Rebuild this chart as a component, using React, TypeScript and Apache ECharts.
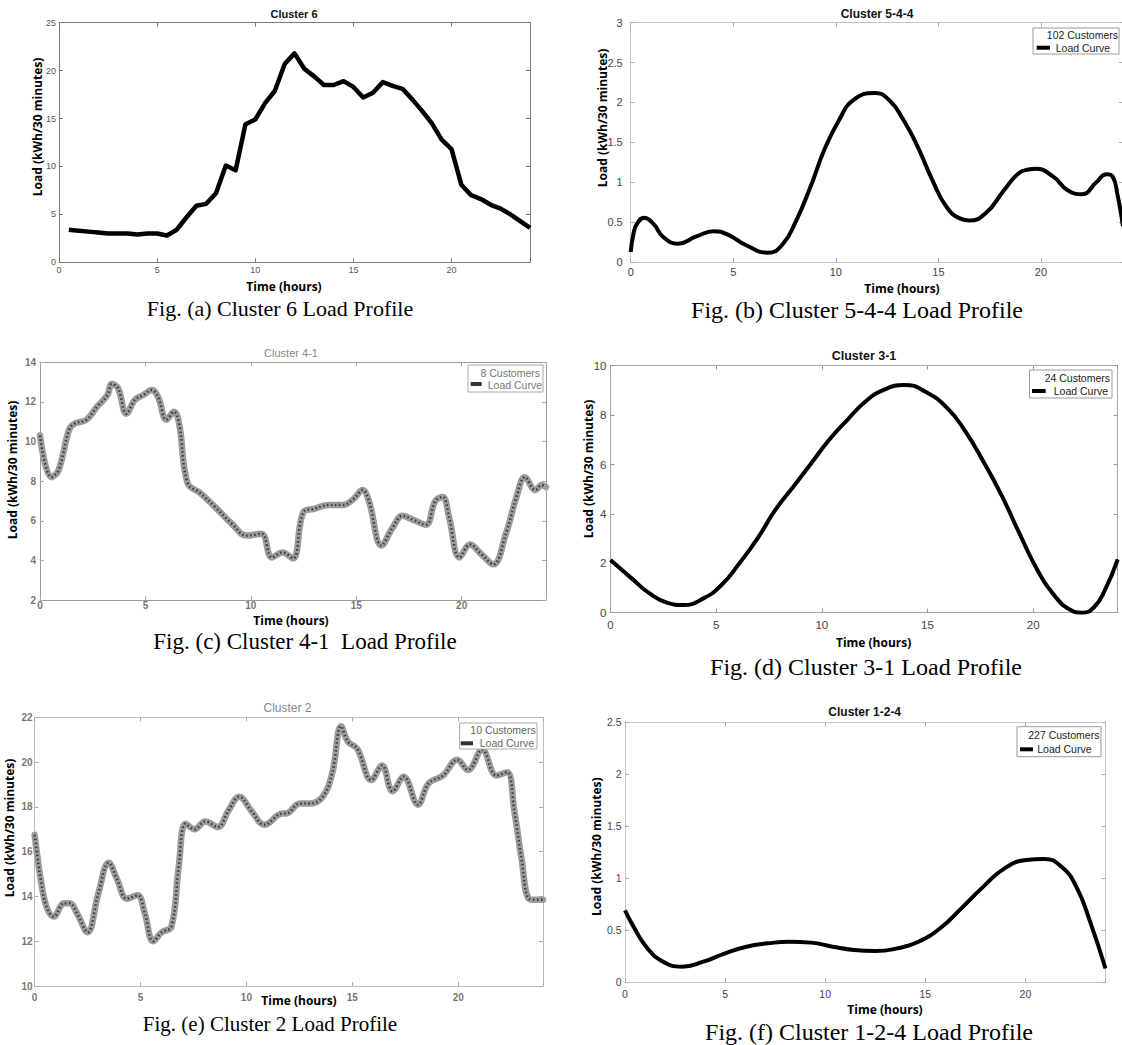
import React, { useEffect, useRef } from "react";
import * as echarts from "echarts";

// ---------- DATA ----------
const xTicks = [0, 5, 10, 15, 20];

// (a) Cluster 6
const hoursA = [0.5, 1, 1.5, 2, 2.5, 3, 3.5, 4, 4.5, 5, 5.5, 6, 6.5, 7, 7.5, 8, 8.5, 9, 9.5, 10, 10.5, 11, 11.5, 12, 12.5, 13, 13.5, 14, 14.5, 15, 15.5, 16, 16.5, 17, 17.5, 18, 18.5, 19, 19.5, 20, 20.5, 21, 21.5, 22, 22.5, 23, 23.5, 24];
const loadA = [3.4, 3.3, 3.2, 3.1, 3.0, 3.0, 3.0, 2.9, 3.0, 3.0, 2.8, 3.4, 4.7, 5.9, 6.1, 7.2, 10.1, 9.6, 14.4, 14.9, 16.6, 17.9, 20.7, 21.8, 20.2, 19.4, 18.5, 18.5, 18.9, 18.3, 17.2, 17.7, 18.8, 18.4, 18.1, 17.0, 15.8, 14.5, 12.8, 11.8, 8.1, 7.0, 6.6, 6.0, 5.6, 5.0, 4.3, 3.6];
const yTicksA = [0, 5, 10, 15, 20, 25];

// (b) Cluster 5-4-4
const hoursB = [0, 0.14, 0.31, 0.66, 1.1, 1.6, 2.3, 3.2, 4.06, 4.76, 5.63, 6.67, 7.37, 8.07, 8.76, 9.46, 10.16, 10.85, 11.9, 12.6, 13.3, 14.0, 14.7, 15.4, 16.1, 16.5, 17.3, 18.2, 18.9, 19.4, 19.74, 20.6, 21.3, 22.0, 22.7, 23.2, 23.5, 23.75, 23.9, 24];
const loadB = [0.125, 0.36, 0.48, 0.556, 0.48, 0.31, 0.23, 0.32, 0.385, 0.34, 0.21, 0.117, 0.21, 0.52, 0.94, 1.42, 1.78, 2.03, 2.12, 2.03, 1.78, 1.44, 1.03, 0.69, 0.54, 0.52, 0.61, 0.9, 1.11, 1.16, 1.17, 1.07, 0.9, 0.85, 1.0, 1.1, 1.07, 0.82, 0.61, 0.45];
const yTicksB = [0, 0.5, 1, 1.5, 2, 2.5, 3];

// (c) Cluster 4-1
const hoursC = [0, 0.54, 0.88, 1.38, 1.63, 2.2, 2.7, 3.2, 3.4, 3.7, 4.1, 4.5, 4.9, 5.3, 5.6, 6.0, 6.35, 6.6, 7.0, 7.6, 8.3, 9.1, 9.8, 10.5, 11.0, 11.5, 12.0, 12.5, 13.0, 13.7, 14.36, 14.87, 15.3, 15.6, 16.2, 16.7, 17.2, 17.7, 18.3, 18.75, 19.1, 19.4, 19.9, 20.4, 20.9, 21.5, 22.1, 22.6, 23.0, 23.5, 23.8, 24];
const loadC = [10.3, 8.2, 8.55, 10.6, 10.9, 11.1, 11.75, 12.35, 12.9, 12.7, 11.4, 12.1, 12.35, 12.6, 12.25, 11.1, 11.5, 10.9, 7.9, 7.4, 6.7, 5.85, 5.25, 5.35, 4.15, 4.4, 4.1, 6.45, 6.6, 6.8, 6.8, 7.1, 7.55, 7.0, 4.75, 5.6, 6.25, 6.05, 5.8, 7.0, 7.2, 6.2, 4.15, 4.8, 4.35, 3.8, 5.35, 7.2, 8.2, 7.55, 7.8, 7.7];
const yTicksC = [2, 4, 6, 8, 10, 12, 14];

// (d) Cluster 3-1
const hoursD = [0, 1.0, 1.85, 2.7, 3.43, 4.4, 5.25, 6.1, 6.95, 7.8, 8.65, 9.5, 10.35, 11.2, 12.05, 12.9, 13.9, 14.9, 15.95, 16.8, 17.65, 18.5, 19.35, 20.2, 21.05, 21.73, 22.33, 22.9, 23.4, 24];
const loadD = [2.13, 1.39, 0.78, 0.4, 0.31, 0.58, 1.12, 2.0, 3.0, 4.16, 5.1, 6.05, 7.0, 7.8, 8.54, 9.01, 9.22, 8.95, 8.27, 7.33, 6.11, 4.76, 3.21, 1.73, 0.65, 0.13, 0.0, 0.24, 0.92, 2.16];
const yTicksD = [0, 2, 4, 6, 8, 10];

// (e) Cluster 2
const hoursE = [0, 0.13, 0.3, 0.56, 0.9, 1.4, 1.65, 2.0, 2.5, 3.0, 3.5, 3.9, 4.35, 4.86, 5.2, 5.6, 6.0, 6.46, 6.8, 7.13, 7.55, 8.06, 8.65, 9.16, 9.66, 10.25, 10.85, 11.7, 11.86, 12.53, 13.0, 13.6, 14.05, 14.47, 14.8, 15.23, 15.9, 16.4, 16.9, 17.42, 18.1, 18.6, 19.28, 19.95, 20.46, 21.13, 21.8, 22.3, 22.65, 23.0, 23.33, 23.66, 24];
const loadE = [16.75, 15.8, 14.7, 13.55, 13.1, 13.7, 13.7, 13.25, 12.4, 14.1, 15.5, 14.75, 13.9, 14.05, 13.25, 12.0, 12.4, 12.65, 15.3, 17.25, 17.0, 17.35, 17.1, 17.85, 18.45, 17.8, 17.2, 17.7, 17.7, 18.15, 18.15, 18.45, 19.5, 21.6, 20.9, 20.6, 19.2, 19.85, 18.7, 19.35, 18.1, 19.05, 19.4, 20.1, 19.65, 20.55, 19.4, 19.55, 17.8, 15.6, 13.9, 13.85, 13.85];
const yTicksE = [10, 12, 14, 16, 18, 20, 22];

// (f) Cluster 1-2-4
const hoursF = [0, 0.52, 1.06, 1.77, 2.85, 3.92, 5.0, 6.07, 7.14, 8.2, 9.3, 10.37, 11.44, 12.5, 13.6, 14.66, 15.74, 16.8, 17.9, 18.96, 20.04, 20.93, 21.8, 22.54, 23.26, 24];
const loadF = [0.69, 0.5, 0.34, 0.21, 0.148, 0.196, 0.276, 0.34, 0.372, 0.388, 0.379, 0.34, 0.308, 0.298, 0.324, 0.388, 0.517, 0.709, 0.918, 1.094, 1.175, 1.185, 1.11, 0.918, 0.565, 0.13];
const yTicksF = [0, 0.5, 1, 1.5, 2, 2.5];

const titles = ["Cluster 6", "Cluster 5-4-4", "Cluster 4-1", "Cluster 3-1", "Cluster 2", "Cluster 1-2-4"];
const captions = [
  "Fig. (a) Cluster 6 Load Profile",
  "Fig. (b) Cluster 5-4-4 Load Profile",
  "Fig. (c) Cluster 4-1  Load Profile",
  "Fig. (d) Cluster 3-1 Load Profile",
  "Fig. (e) Cluster 2 Load Profile",
  "Fig. (f) Cluster 1-2-4 Load Profile",
];
const customerLabels = [null, "102 Customers", "8 Customers", "24 Customers", "10 Customers", "227 Customers"];
const seriesName = "Load Curve";
const xName = "Time (hours)";
const yName = "Load (kWh/30 minutes)";

// ---------- LAYOUT / STYLE ----------
const SANS = "'Liberation Sans', Arial, sans-serif";
const BOLD = "'Open Sans', 'Liberation Sans', sans-serif";
const SERIF = "'Liberation Serif', 'Times New Roman', serif";

const panels = [
  {
    hours: hoursA, load: loadA, yTicks: yTicksA, smooth: false, noisy: false,
    grid: { left: 59, top: 22.7, width: 471, height: 239.6 },
    axis: "#7a7a7a", tick: "#777", label: "#555", labelSize: 9, labelWeight: "normal", xMargin: 3, yMargin: 3,
    lineWidth: 4.5,
    title: { x: 294, y: 14, size: 11, color: "#111", weight: "bold" },
    yNamePos: { x: 37.5, y: 127 }, xNamePos: { x: 284, y: 286 },
    cap: { x: 280, y: 308, size: 22 },
    legend: null,
  },
  {
    hours: hoursB, load: loadB, yTicks: yTicksB, smooth: 0.5, noisy: false,
    grid: { left: 630.7, top: 22.7, width: 493.3, height: 239.3 },
    axis: "#c4c4c4", tick: "#aaa", label: "#444", labelSize: 11, labelWeight: "normal", xMargin: 4, yMargin: 8,
    lineWidth: 4,
    title: { x: 877, y: 13.5, size: 12, color: "#111", weight: "bold" },
    yNamePos: { x: 602, y: 118 }, xNamePos: { x: 902, y: 288 },
    cap: { x: 857, y: 310, size: 24 },
    legend: { box: [1033, 28, 86, 26], t1: [1118, 34.7], t2: [1110, 47.7], m: [1036.7, 1050, 47.7], color: "#222", stroke: "#999", mark: "#000" },
  },
  {
    hours: hoursC, load: loadC, yTicks: yTicksC, smooth: 0.4, noisy: true,
    grid: { left: 40, top: 362.3, width: 506, height: 237.7 },
    axis: "#9a9a9a", tick: "#aaa", label: "#777", labelSize: 10, labelWeight: "bold", xMargin: 0, yMargin: 4,
    lineWidth: 6.5,
    title: { x: 291, y: 352.7, size: 11, color: "#888", weight: "normal" },
    yNamePos: { x: 12.5, y: 470 }, xNamePos: { x: 291, y: 620 },
    cap: { x: 305, y: 641, size: 23 },
    legend: { box: [468, 365, 75, 27], t1: [540, 373], t2: [542, 385], m: [470.7, 481.7, 384], color: "#777", stroke: "#aaa", mark: "#333" },
  },
  {
    hours: hoursD, load: loadD, yTicks: yTicksD, smooth: 0.5, noisy: false,
    grid: { left: 610.5, top: 365.7, width: 507.2, height: 247 },
    axis: "#a8a8a8", tick: "#999", label: "#444", labelSize: 11.5, labelWeight: "normal", xMargin: 6, yMargin: 4,
    lineWidth: 4,
    title: { x: 864, y: 356, size: 12.5, color: "#111", weight: "bold" },
    yNamePos: { x: 588.7, y: 469 }, xNamePos: { x: 873.6, y: 642 },
    cap: { x: 866, y: 667, size: 24 },
    legend: { box: [1029.5, 370, 82.5, 28], t1: [1110, 378.3], t2: [1108, 391], m: [1032, 1045.6, 391], color: "#222", stroke: "#999", mark: "#000" },
  },
  {
    hours: hoursE, load: loadE, yTicks: yTicksE, smooth: 0.4, noisy: true,
    grid: { left: 34.6, top: 717.3, width: 508.4, height: 268.7 },
    axis: "#bbb", tick: "#aaa", label: "#777", labelSize: 10, labelWeight: "bold", xMargin: 6, yMargin: 2,
    lineWidth: 6.5,
    title: { x: 287.5, y: 707.7, size: 12, color: "#888", weight: "normal" },
    yNamePos: { x: 9, y: 828 }, xNamePos: { x: 299, y: 1000 },
    cap: { x: 270, y: 1024, size: 21 },
    legend: { box: [459.6, 723, 77.4, 26], t1: [535.7, 730], t2: [534, 743.3], m: [460.7, 473, 743.3], color: "#666", stroke: "#aaa", mark: "#333" },
  },
  {
    hours: hoursF, load: loadF, yTicks: yTicksF, smooth: 0.5, noisy: false,
    grid: { left: 625, top: 722.3, width: 480.5, height: 259.7 },
    axis: "#c8c8c8", tick: "#aaa", label: "#444", labelSize: 10.5, labelWeight: "normal", xMargin: 6, yMargin: 3.5,
    lineWidth: 4,
    title: { x: 864.7, y: 711.7, size: 12, color: "#111", weight: "bold" },
    yNamePos: { x: 596, y: 846.7 }, xNamePos: { x: 885, y: 1009 },
    cap: { x: 869, y: 1032, size: 24 },
    legend: { box: [1017, 726.7, 84, 30], t1: [1099.4, 735.3], t2: [1091.5, 749.3], m: [1020, 1033, 749.3], color: "#222", stroke: "#999", mark: "#000" },
  },
];

function text(x: number, y: number, t: string, size: number, family: string, weight: string, fill: string, align = "center", rotation = 0) {
  return {
    type: "text", x, y, rotation, silent: true, z: 100,
    style: { text: t, fontSize: size, fontFamily: family, fontWeight: weight, fill, align, verticalAlign: "middle" },
  };
}

function buildOption() {
  const grid: any[] = [];
  const xAxis: any[] = [];
  const yAxis: any[] = [];
  const series: any[] = [];
  const graphic: any[] = [];

  panels.forEach((p, i) => {
    grid.push({ ...p.grid, containLabel: false });
    const yMin = p.yTicks[0];
    const yMax = p.yTicks[p.yTicks.length - 1];
    const yInt = p.yTicks[1] - p.yTicks[0];
    const axisLine = { show: true, onZero: false, lineStyle: { color: p.axis, width: 1 } };
    const axisTick = { show: true, inside: true, length: 4, lineStyle: { color: p.tick, width: 1 } };
    const lbl = { color: p.label, fontSize: p.labelSize, fontFamily: SANS, fontWeight: p.labelWeight };
    xAxis.push({
      type: "value", gridIndex: i, position: "bottom", min: xTicks[0], max: 24, interval: xTicks[1] - xTicks[0],
      axisLine, axisTick, splitLine: { show: false },
      axisLabel: { ...lbl, margin: p.xMargin, formatter: (v: number) => (xTicks.includes(v) ? String(v) : "") },
    });
    xAxis.push({
      type: "value", gridIndex: i, position: "top", min: xTicks[0], max: 24, interval: xTicks[1] - xTicks[0],
      axisLine, axisTick, splitLine: { show: false }, axisLabel: { show: false },
    });
    yAxis.push({
      type: "value", gridIndex: i, position: "left", min: yMin, max: yMax, interval: yInt,
      axisLine, axisTick, splitLine: { show: false },
      axisLabel: { ...lbl, margin: p.yMargin },
    });
    yAxis.push({
      type: "value", gridIndex: i, position: "right", min: yMin, max: yMax, interval: yInt,
      axisLine, axisTick, splitLine: { show: false }, axisLabel: { show: false },
    });

    const data = p.hours.map((h, k) => [h, p.load[k]]);
    if (p.noisy) {
      series.push({
        type: "line", name: seriesName, xAxisIndex: 2 * i, yAxisIndex: 2 * i, data, smooth: p.smooth,
        symbol: "none", lineStyle: { color: "#9c9c9c", width: p.lineWidth, cap: "round", join: "round" },
      });
      series.push({
        type: "line", name: seriesName, xAxisIndex: 2 * i, yAxisIndex: 2 * i, data, smooth: p.smooth,
        symbol: "none", lineStyle: { color: "#3a3a3a", width: 2.5, type: [1.5, 2.5] },
      });
    } else {
      series.push({
        type: "line", name: seriesName, xAxisIndex: 2 * i, yAxisIndex: 2 * i, data, smooth: p.smooth,
        symbol: "none", lineStyle: { color: "#000", width: p.lineWidth, join: "round" },
      });
    }

    graphic.push(text(p.title.x, p.title.y, titles[i], p.title.size, SANS, p.title.weight, p.title.color));
    graphic.push(text(p.yNamePos.x, p.yNamePos.y, yName, 12, BOLD, "bold", "#000", "center", Math.PI / 2));
    graphic.push(text(p.xNamePos.x, p.xNamePos.y, xName, 12, BOLD, "bold", "#000"));
    graphic.push(text(p.cap.x, p.cap.y, captions[i], p.cap.size, SERIF, "normal", "#000"));

    const lg = p.legend;
    if (lg) {
      graphic.push({
        type: "rect", z: 99, silent: true,
        shape: { x: lg.box[0], y: lg.box[1], width: lg.box[2], height: lg.box[3] },
        style: { fill: "#fff", stroke: lg.stroke, lineWidth: 1 },
      });
      graphic.push(text(lg.t1[0], lg.t1[1], customerLabels[i] as string, 10.5, SANS, "normal", lg.color, "right"));
      graphic.push(text(lg.t2[0], lg.t2[1], seriesName, 10.5, SANS, "normal", lg.color, "right"));
      graphic.push({
        type: "line", z: 100, silent: true,
        shape: { x1: lg.m[0], y1: lg.m[2], x2: lg.m[1], y2: lg.m[2] },
        style: { stroke: lg.mark, lineWidth: 4 },
      });
    }
  });

  return { animation: false, backgroundColor: "#fff", grid, xAxis, yAxis, series, graphic };
}

export default function App() {
  const ref = useRef<HTMLDivElement>(null);
  useEffect(() => {
    if (!ref.current) return;
    const chart = echarts.init(ref.current, undefined, { renderer: "svg" });
    chart.setOption(buildOption() as any);
    return () => chart.dispose();
  }, []);
  return (
    <div style={{ position: "absolute", left: 0, top: 0, width: 1122, height: 1045, overflow: "hidden", background: "#fff" }}>
      <div ref={ref} style={{ width: 1126, height: 1045 }} />
    </div>
  );
}
